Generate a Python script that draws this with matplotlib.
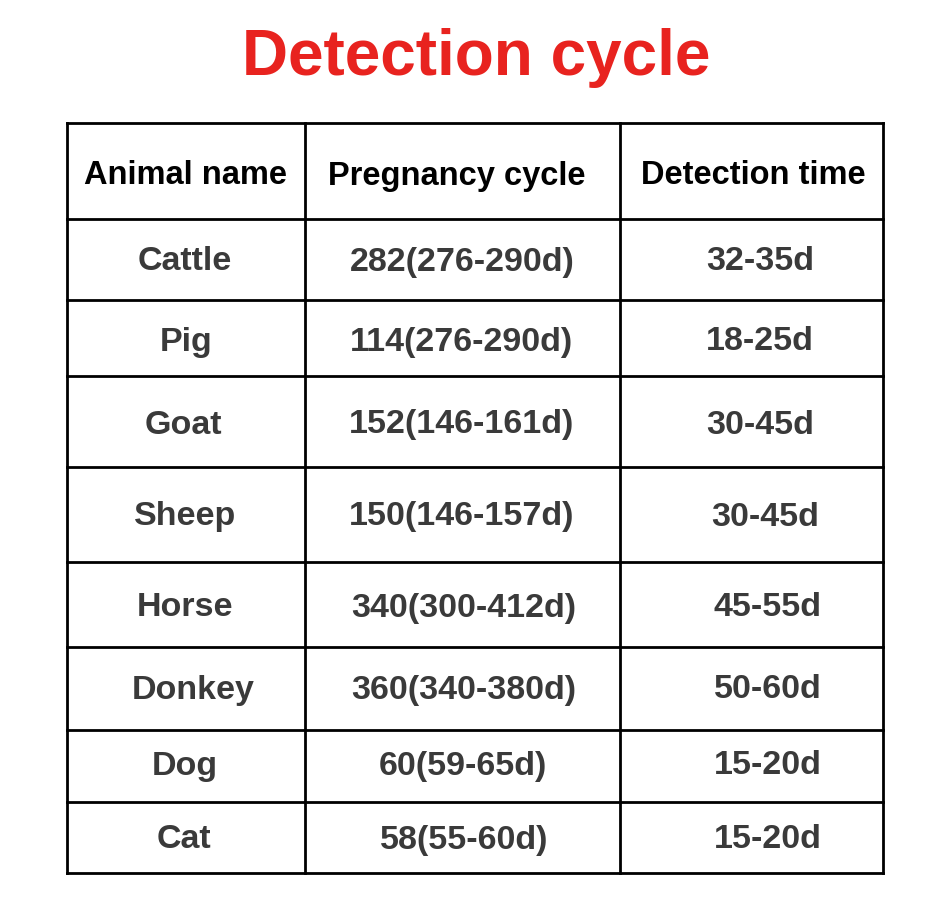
import matplotlib
matplotlib.use("Agg")
import matplotlib.pyplot as plt

title = "Detection cycle"
headers = ["Animal name", "Pregnancy cycle", "Detection time"]
animals = ["Cattle", "Pig", "Goat", "Sheep", "Horse", "Donkey", "Dog", "Cat"]
pregnancy = ["282(276-290d)", "114(276-290d)", "152(146-161d)", "150(146-157d)",
             "340(300-412d)", "360(340-380d)", "60(59-65d)", "58(55-60d)"]
detection = ["32-35d", "18-25d", "30-45d", "30-45d", "45-55d", "50-60d", "15-20d", "15-20d"]

# layout (pixels)
col_edges = [67, 305, 620, 883]
row_edges = [123, 219, 300, 376, 467, 562, 647, 730, 802, 873]
header_y = 176
text_y = [262, 342, 425, 517, 608, 690, 766, 840]
col_x = [[185, 186, 183, 185, 185, 193, 185, 184],
         [462, 462, 462, 462, 464, 464, 463, 464],
         [760, 760, 760, 765, 768, 768, 768, 768]]
header_x = [186, 457, 753]

fig = plt.figure(figsize=(9.5, 9.0), dpi=100)
ax = fig.add_axes([0, 0, 1, 1])
ax.set_xlim(0, 950)
ax.set_ylim(900, 0)
ax.axis("off")

ax.text(476, 58, title, color="#e8231f", fontsize=46, fontweight="bold",
        family="Liberation Sans", ha="center", va="center")

for y in row_edges:
    ax.plot([col_edges[0], col_edges[-1]], [y, y], color="black", lw=2)
for x in col_edges:
    ax.plot([x, x], [row_edges[0], row_edges[-1]], color="black", lw=2)

for x, h in zip(header_x, headers):
    ax.text(x, header_y, h, fontsize=23.5, color="black", ha="center", va="center",
            family="Liberation Sans", fontweight="bold")

for ci, col in enumerate([animals, pregnancy, detection]):
    for ri, t in enumerate(col):
        ax.text(col_x[ci][ri], text_y[ri], t, fontsize=24.5, color="#3a3a3a",
                ha="center", va="center", family="Liberation Sans", fontweight="bold")

fig.savefig("out.png", dpi=100)
